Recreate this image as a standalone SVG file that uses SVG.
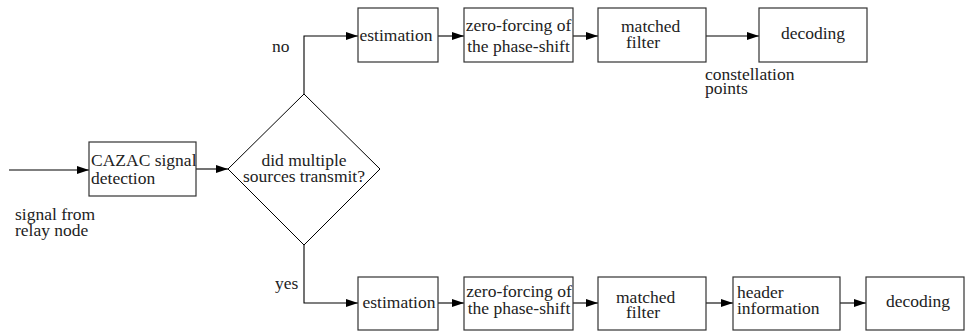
<svg xmlns="http://www.w3.org/2000/svg" width="965" height="334" viewBox="0 0 965 334">
<style>
.b{fill:#fff;stroke:#333;stroke-width:1.2}
.c{fill:none;stroke:#000;stroke-width:1.1}
text{font-family:Liberation Serif,serif;font-size:17.5px;fill:#222}
</style>
<defs>
<marker id="ah" markerWidth="12" markerHeight="8" refX="12" refY="4" orient="auto" markerUnits="userSpaceOnUse">
<path d="M0,0 L12,4 L0,8 z" fill="#000"/>
</marker>
</defs>
<rect width="965" height="334" fill="#fff"/>
<g id="connectors">
<path class="c" d="M9,170 H89" marker-end="url(#ah)"/>
<path class="c" d="M196,169 H228" marker-end="url(#ah)"/>
<path class="c" d="M304,94 V36 H358" marker-end="url(#ah)"/>
<path class="c" d="M438,36 H464" marker-end="url(#ah)"/>
<path class="c" d="M573,36 H598" marker-end="url(#ah)"/>
<path class="c" d="M706,36 H759" marker-end="url(#ah)"/>
<path class="c" d="M304,245 V303 H358" marker-end="url(#ah)"/>
<path class="c" d="M438,303 H464" marker-end="url(#ah)"/>
<path class="c" d="M573,303 H598" marker-end="url(#ah)"/>
<path class="c" d="M706,303 H733" marker-end="url(#ah)"/>
<path class="c" d="M840,303 H866" marker-end="url(#ah)"/>
</g>
<g id="input-label">
<text x="15" y="220">signal from</text>
<text x="15" y="236">relay node</text>
</g>
<g id="cazac">
<rect class="b" x="89" y="142" width="107" height="54"/>
<text x="91" y="166">CAZAC signal</text>
<text x="91" y="184">detection</text>
</g>
<g id="decision">
<path class="b" d="M304,94 L380,169 L304,245 L228,169 Z" style="stroke:#000;stroke-width:1"/>
<text x="304" y="166" text-anchor="middle">did multiple</text>
<text x="304" y="182" text-anchor="middle">sources transmit?</text>
</g>
<g id="label-no"><text x="272" y="52">no</text></g>
<g id="label-yes"><text x="275" y="289">yes</text></g>
<g id="est-top">
<rect class="b" x="358" y="8" width="80" height="54"/>
<text x="396" y="41" text-anchor="middle">estimation</text>
</g>
<g id="zf-top">
<rect class="b" x="464" y="8" width="109" height="54"/>
<text x="518.5" y="31" text-anchor="middle">zero-forcing of</text>
<text x="518.5" y="52" text-anchor="middle">the phase-shift</text>
</g>
<g id="mf-top">
<rect class="b" x="598" y="8" width="108" height="54"/>
<text x="621" y="32">matched</text>
<text x="626" y="48">filter</text>
</g>
<g id="dec-top">
<rect class="b" x="759" y="8" width="108" height="54"/>
<text x="813" y="39" text-anchor="middle">decoding</text>
</g>
<g id="constellation-label">
<text x="705" y="80">constellation</text>
<text x="705" y="94">points</text>
</g>
<g id="est-bot">
<rect class="b" x="358" y="277" width="80" height="53"/>
<text x="399" y="308" text-anchor="middle">estimation</text>
</g>
<g id="zf-bot">
<rect class="b" x="464" y="277" width="109" height="53"/>
<text x="519" y="297" text-anchor="middle">zero-forcing of</text>
<text x="519" y="314" text-anchor="middle">the phase-shift</text>
</g>
<g id="mf-bot">
<rect class="b" x="598" y="277" width="108" height="53"/>
<text x="616" y="303">matched</text>
<text x="626" y="318">filter</text>
</g>
<g id="header">
<rect class="b" x="733" y="277" width="107" height="53"/>
<text x="737" y="298">header</text>
<text x="737" y="314">information</text>
</g>
<g id="dec-bot">
<rect class="b" x="866" y="277" width="98" height="53"/>
<text x="918" y="307" text-anchor="middle">decoding</text>
</g>
</svg>
